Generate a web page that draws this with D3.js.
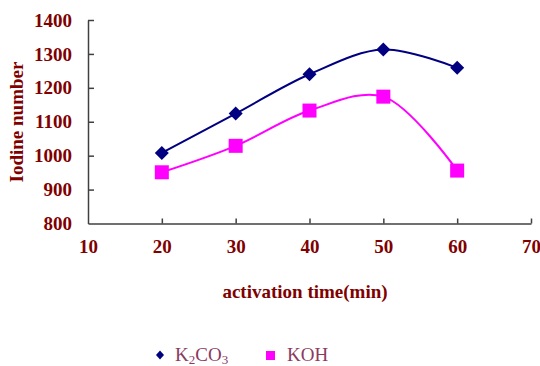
<!DOCTYPE html>
<html><head><meta charset="utf-8">
<script src="https://cdn.jsdelivr.net/npm/d3@7/dist/d3.min.js"></script>
<style>body{margin:0;background:#fff}svg{display:block}</style>
</head><body>
<script>
const times = [20, 30, 40, 50, 60];
const k2co3 = [1008, 1124, 1240, 1313, 1259];
const koh = [951, 1029, 1133, 1174, 956];
const xTicks = [10, 20, 30, 40, 50, 60, 70];
const yTicks = [800, 900, 1000, 1100, 1200, 1300, 1400];
const seriesNames = ["K2CO3", "KOH"];

const W = 540, H = 366;
const red = "#800000";
const svg = d3.select("body").append("svg").attr("width", W).attr("height", H);
const x = d3.scaleLinear().domain([10, 70]).range([88, 531]);
const y = d3.scaleLinear().domain([800, 1400]).range([223.5, 20]);
const font = "'Liberation Serif', 'Times New Roman', serif";

// axes
const xAxis = svg.append("g").attr("transform", "translate(0,223.5)")
  .call(d3.axisBottom(x).tickValues(xTicks).tickFormat(d3.format("d")).tickSizeInner(-5).tickSizeOuter(0).tickPadding(16));
const yAxis = svg.append("g").attr("transform", "translate(88,0)")
  .call(d3.axisLeft(y).tickValues(yTicks).tickFormat(d3.format("d")).tickSizeInner(-6).tickSizeOuter(0).tickPadding(16));
[xAxis, yAxis].forEach(g => {
  g.select(".domain").attr("stroke", "#404040").attr("stroke-width", 1.5);
  g.selectAll(".tick line").attr("stroke", "#404040").attr("stroke-width", 1.5);
  g.selectAll(".tick text").attr("fill", red).attr("font-family", font)
    .attr("font-weight", "bold").attr("font-size", 19);
});
xAxis.selectAll(".tick text").attr("dy", "0.71em");
xAxis.selectAll(".tick line").filter(d => d === 10).attr("opacity", 0);
yAxis.selectAll(".tick line").filter(d => d === 800).attr("opacity", 0);

// axis titles
svg.append("text").attr("transform", "translate(23,122) rotate(-90)")
  .attr("text-anchor", "middle").attr("fill", red).attr("font-family", font)
  .attr("font-weight", "bold").attr("font-size", 19).text("Iodine number");
svg.append("text").attr("x", 305).attr("y", 298)
  .attr("text-anchor", "middle").attr("fill", red).attr("font-family", font)
  .attr("font-weight", "bold").attr("font-size", 19).text("activation time(min)");

const line = d3.line().x((d, i) => x(times[i])).y(d => y(d)).curve(d3.curveCatmullRom.alpha(0.5));

// K2CO3
svg.append("path").datum(k2co3).attr("d", line).attr("fill", "none")
  .attr("stroke", "#000080").attr("stroke-width", 2);
svg.append("g").selectAll("path").data(k2co3).join("path")
  .attr("transform", (d, i) => `translate(${x(times[i])},${y(d)})`)
  .attr("d", "M0,-7L7,0L0,7L-7,0Z").attr("fill", "#000080");

// KOH
svg.append("path").datum(koh).attr("d", line).attr("fill", "none")
  .attr("stroke", "#ff00ff").attr("stroke-width", 2);
svg.append("g").selectAll("rect").data(koh).join("rect")
  .attr("x", (d, i) => x(times[i]) - 7).attr("y", d => y(d) - 7)
  .attr("width", 14).attr("height", 14).attr("fill", "#ff00ff");

// legend
const lg = svg.append("g");
lg.append("path").attr("transform", "translate(160,355)").attr("d", "M0,-4.5L4,0L0,4.5L-4,0Z").attr("fill", "#000080");
const t1 = lg.append("text").attr("x", 175).attr("y", 361).attr("fill", "#8b3a62")
  .attr("font-family", font).attr("font-size", 19);
t1.append("tspan").text("K");
t1.append("tspan").attr("font-size", 13).attr("dy", 3).text("2");
t1.append("tspan").attr("dy", -3).text("CO");
t1.append("tspan").attr("font-size", 13).attr("dy", 3).text("3");
lg.append("rect").attr("x", 266).attr("y", 351).attr("width", 9).attr("height", 9).attr("fill", "#ff00ff");
lg.append("text").attr("x", 287).attr("y", 361).attr("fill", "#8b3a62")
  .attr("font-family", font).attr("font-size", 19).text(seriesNames[1]);
</script>
</body></html>
